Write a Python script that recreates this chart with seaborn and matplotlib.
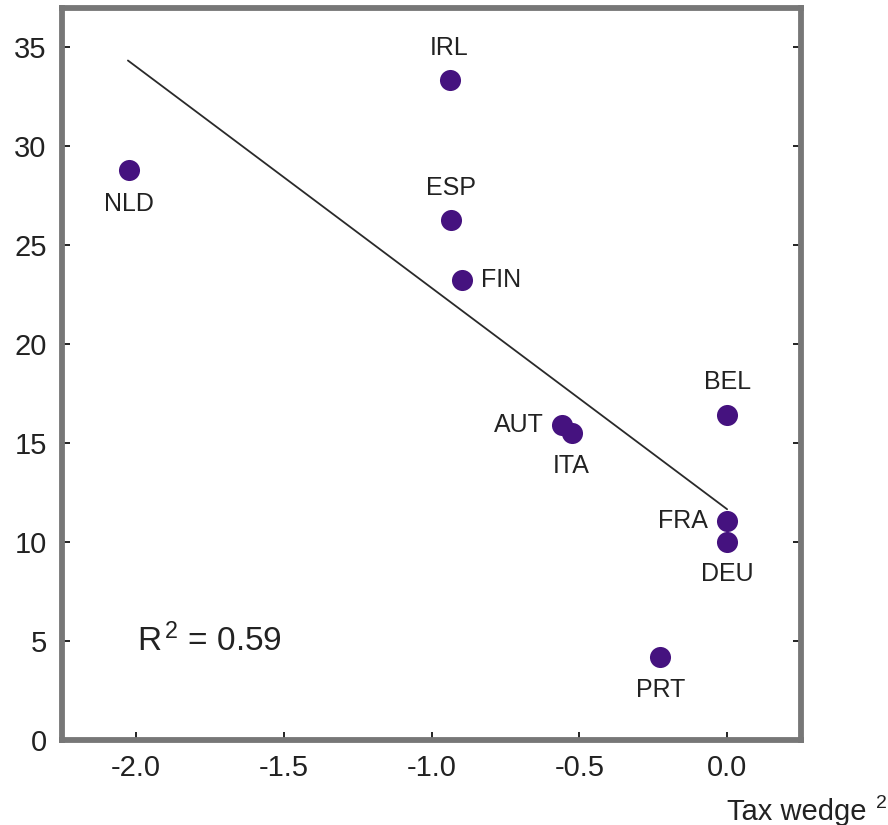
import numpy as np
import pandas as pd
import matplotlib
matplotlib.use("Agg")
import matplotlib.pyplot as plt
import seaborn as sns

# Data
countries = ["NLD", "IRL", "ESP", "FIN", "AUT", "ITA", "BEL", "FRA", "DEU", "PRT"]
tax_wedge = [-2.025, -0.939, -0.933, -0.898, -0.560, -0.526, 0.0, 0.0, 0.0, -0.226]
values = [28.75, 33.3, 26.25, 23.2, 15.9, 15.5, 16.4, 11.05, 9.97, 4.2]
# label placement: (dx, dy) in points, horizontal alignment
label_pos = {
    "NLD": (0, -24, "center"), "IRL": (0, 23, "center"), "ESP": (0, 23, "center"),
    "FIN": (14, 0, "left"), "AUT": (-13, 0, "right"), "ITA": (0, -24, "center"),
    "BEL": (0, 24, "center"), "FRA": (-14, 0, "right"), "DEU": (0, -23, "center"),
    "PRT": (0, -24, "center"),
}

# fitted line as drawn in the reference (end points)
fit_x = [-2.027, 0.0]
fit_y = [34.3, 11.65]
r2_text = r"R$^{\,2}$ = 0.59"

df = pd.DataFrame({"country": countries, "wedge": tax_wedge, "value": values})

sns.set_style("ticks")
plt.rcParams["font.family"] = ["Liberation Sans", "DejaVu Sans"]
plt.rcParams["mathtext.fontset"] = "custom"
plt.rcParams["mathtext.rm"] = "Liberation Sans"
plt.rcParams["mathtext.it"] = "Liberation Sans:italic"
plt.rcParams["axes.unicode_minus"] = False

fig = plt.figure(figsize=(8.88, 8.25), dpi=100)
ax = fig.add_axes([62 / 888, 85 / 825, (801 - 62) / 888, (817 - 85) / 825])

sns.lineplot(x=fit_x, y=fit_y, ax=ax, color="#2a2a2a", linewidth=1.3,
             estimator=None, sort=False)
sns.scatterplot(data=df, x="wedge", y="value", ax=ax, color="#45127f",
                s=230, linewidth=0, zorder=3)

for c, xv, yv in zip(countries, tax_wedge, values):
    dx, dy, ha = label_pos[c]
    ax.annotate(c, (xv, yv), xytext=(dx, dy), textcoords="offset points",
                ha=ha, va="center", fontsize=18, color="#222222")

ax.text(-1.995, 4.5, r2_text, fontsize=24, color="#222222", va="baseline")

ax.set_xlim(-2.25, 0.25)
ax.set_ylim(0, 36.95)
ax.set_xticks([-2.0, -1.5, -1.0, -0.5, 0.0])
ax.set_xticklabels(["-2.0", "-1.5", "-1.0", "-0.5", "0.0"])
ax.set_yticks(range(0, 36, 5))
ax.set_xlabel("")
ax.set_ylabel("")

for side in ["left", "right", "top", "bottom"]:
    ax.spines[side].set_visible(True)
    ax.spines[side].set_color("#777777")
    ax.spines[side].set_linewidth(4.2)

ax.tick_params(axis="y", direction="in", length=6, width=1.3, color="#111111",
               labelsize=21, labelcolor="#222222", pad=11, right=True)
ax.tick_params(axis="x", direction="in", length=6, width=1.3, color="#111111",
               labelsize=21, labelcolor="#222222", pad=10, top=False)

fig.text(727 / 888, 1 - 820 / 825, "Tax wedge", fontsize=21, color="#222222",
         ha="left", va="baseline")
fig.text(876 / 888, 1 - 808 / 825, "2", fontsize=14, color="#222222",
         ha="left", va="baseline")

fig.savefig("out.png", dpi=100)
